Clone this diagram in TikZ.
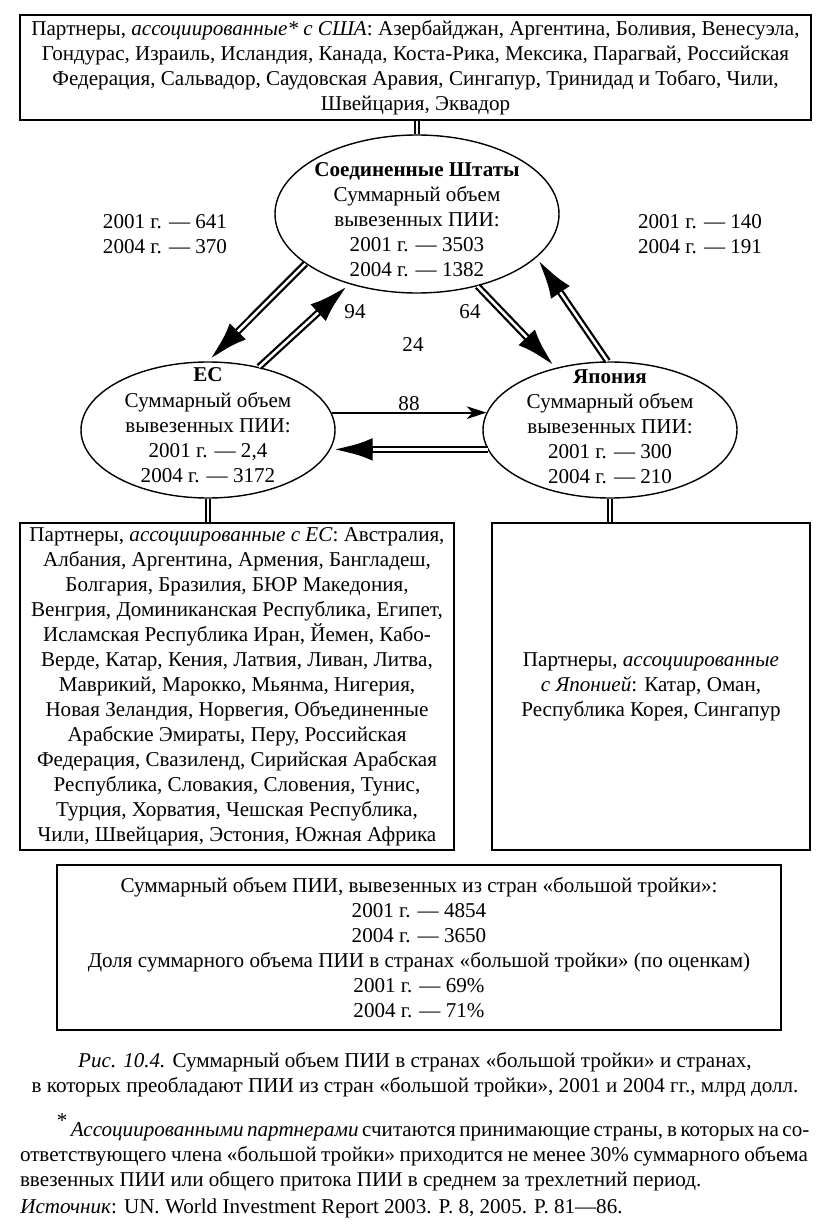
\documentclass[tikz,border=0pt]{standalone}
\usepackage{fontspec}
\setmainfont{Liberation Serif}
\usetikzlibrary{arrows.meta}
\usetikzlibrary{shapes.geometric}
\tikzset{box/.style = {draw, line width=1pt, align=center, inner sep=0pt},
         oval/.style = {draw, ellipse, line width=1pt, inner sep=0pt},
         txt/.style = {align=center, inner sep=0pt},
         link/.style = {double, double distance=2pt, line width=1pt},
         flow/.style = {line width=5pt, -{Latex[length=30pt, width=16pt]},
                        postaction={draw, white, line width=1.8pt, -, shorten >=30pt}},
         thinflow/.style = {line width=1.4pt, -{Stealth[length=14pt, width=9pt, inset=4pt]}}}

\begin{document}
\begin{tikzpicture}[font=\fontsize{15pt}{17.8pt}\selectfont]
      \useasboundingbox (0, 0) rectangle (20.675, -30.775);

      \node [box, minimum width=19.775cm, minimum height=2.625cm] (usp) at (10.3875, -1.6875)
        {Партнеры, \textit{ассоциированные* с США}: Азербайджан, Аргентина, Боливия, Венесуэла,\\
         Гондурас, Израиль, Исландия, Канада, Коста-Рика, Мексика, Парагвай, Российская\\
         Федерация, Сальвадор, Саудовская Аравия, Сингапур, Тринидад и Тобаго, Чили,\\
         Швейцария, Эквадор};

      \node [oval, minimum width=7.1cm, minimum height=3.95cm] (us) at (10.425, -5.35) {};
      \node [oval, minimum width=6.35cm, minimum height=3.4cm] (eu) at (5.2, -10.75) {};
      \node [oval, minimum width=6.35cm, minimum height=3.4cm] (jp) at (15.25, -10.75) {};

      \node [txt] (ust) at ([yshift=-0.15cm]us.center)
        {\textbf{Соединенные Штаты}\\ Суммарный объем\\ вывезенных ПИИ:\\ 2001 г. — 3503\\ 2004 г. — 1382};
      \node [txt] (eut) at ([yshift=0.12cm]eu.center)
        {\textbf{ЕС}\\ Суммарный объем\\ вывезенных ПИИ:\\ 2001 г. — 2,4\\ 2004 г. — 3172};
      \node [txt] (jpt) at ([yshift=0.08cm]jp.center)
        {\textbf{Япония}\\ Суммарный объем\\ вывезенных ПИИ:\\ 2001 г. — 300\\ 2004 г. — 210};

      \node [box, minimum width=10.85cm, minimum height=8.175cm] (eup) at (5.925, -17.1625)
        {Партнеры, \textit{ассоциированные с ЕС}: Австралия,\\
         Албания, Аргентина, Армения, Бангладеш,\\
         Болгария, Бразилия, БЮР Македония,\\
         Венгрия, Доминиканская Республика, Египет,\\
         Исламская Республика Иран, Йемен, Кабо-\\
         Верде, Катар, Кения, Латвия, Ливан, Литва,\\
         Маврикий, Марокко, Мьянма, Нигерия,\\
         Новая Зеландия, Норвегия, Объединенные\\
         Арабские Эмираты, Перу, Российская\\
         Федерация, Свазиленд, Сирийская Арабская\\
         Республика, Словакия, Словения, Тунис,\\
         Турция, Хорватия, Чешская Республика,\\
         Чили, Швейцария, Эстония, Южная Африка};
      \node [box, minimum width=7.95cm, minimum height=8.175cm] (jpp) at (16.275, -17.1625)
        {Партнеры, \textit{ассоциированные}\\
         \textit{с Японией}: Катар, Оман,\\
         Республика Корея, Сингапур};

      \node [box, minimum width=18.1cm, minimum height=4.125cm] (total) at (10.475, -23.6875)
        {Суммарный объем ПИИ, вывезенных из стран «большой тройки»:\\
         2001 г. — 4854\\ 2004 г. — 3650\\
         Доля суммарного объема ПИИ в странах «большой тройки» (по оценкам)\\
         2001 г. — 69\%\\ 2004 г. — 71\%};

      \draw [link] (us.north |- usp.south) -- (us.north);
      \draw [link] (eu.south) -- (eu.south |- eup.north);
      \draw [link] (jp.south) -- (jp.south |- jpp.north);

      \draw [flow] (us.204) -- (eu.90);
      \draw [flow] (eu.51) -- (us.226);
      \draw [flow] (us.310) -- (jp.131);
      \draw [flow] (jp.92) -- (us.340);
      \draw [thinflow] (eu.8) -- node [above, inner sep=1pt] (v88) {88} (jp.172);
      \draw [flow] (jp.189) -- (eu.351);

      \node [txt] (l641) at (4.125, -5.85) {2001 г. — 641\\ 2004 г. — 370};
      \node [txt] (l140) at (17.5, -5.85) {2001 г. — 140\\ 2004 г. — 191};
      \node (v94) at (8.875, -7.8) {94};
      \node (v64) at (11.75, -7.8) {64};
      \node (v24) at (10.325, -8.625) {24};

      \node [txt] (cap) at (10.375, -26.86)
        {\textit{Рис. 10.4.} Суммарный объем ПИИ в странах «большой тройки» и странах,\\
         в которых преобладают ПИИ из стран «большой тройки», 2001 и 2004 гг., млрд долл.};
      \node [txt, align=left] (note) at (10.35, -28.81)
        {\makebox[19.7cm][s]{\hspace*{0.92cm}\raisebox{0.4em}{*}\,\textit{Ассоциированными партнерами} считаются принимающие страны, в которых на со-}\\
         \makebox[19.7cm][s]{ответствующего члена «большой тройки» приходится не менее 30\% суммарного объема}\\
         \makebox[19.7cm][l]{ввезенных ПИИ или общего притока ПИИ в среднем за трехлетний период.}};
      \node [txt, anchor=west] (src) at (0.5, -30.2)
        {\textit{Источник}: UN. World Investment Report 2003. P. 8, 2005. P. 81—86.};
    \end{tikzpicture}
\end{document}
